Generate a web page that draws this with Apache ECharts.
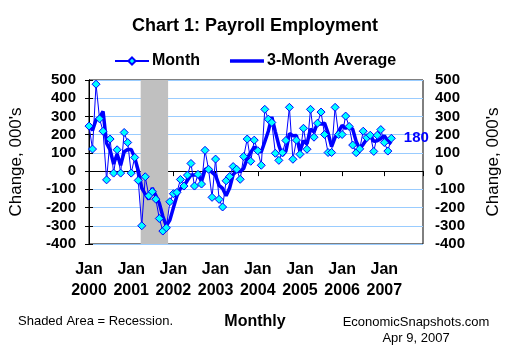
<!DOCTYPE html>
<html>
<head>
<meta charset="utf-8">
<script src="https://cdn.jsdelivr.net/npm/echarts@6/dist/echarts.min.js"></script>
<style>html,body{margin:0;padding:0;background:#fff;}#c{width:510px;height:360px;}</style>
</head>
<body>
<div id="c"></div>
<script>
// Monthly change in payroll employment, 000's, Jan 2000 .. Mar 2007
const monthly = [
  247, 121, 477, 287, 219, -48, 176, -11, 117, -11, 212, 157,
  -11, 75, -51, -300, -31, -135, -113, -154, -260, -329, -311, -168,
  -124, -117, -46, -82, -22, 42, -82, -18, -71, 114, 10, -144,
  66, -155, -197, -53, -30, 25, 10, -45, 80, 176, 54, 170,
  112, 32, 339, 285, 267, 98, 59, 101, 168, 350, 65, 170,
  92, 235, 120, 339, 186, 263, 324, 201, 102, 102, 350, 201,
  201, 302, 245, 143, 101, 122, 219, 183, 197, 108, 197, 228,
  157, 110, 180
];
// 3-month average, 000's
const avg3 = [
  260, 223, 282, 295, 328, 153, 116, 39, 94, 32, 106, 119,
  119, 74, 4, -92, -127, -155, -93, -134, -176, -248, -300, -269,
  -201, -136, -96, -82, -50, -21, -21, -19, -57, 8, 18, -7,
  -23, -78, -95, -135, -93, -19, 2, -3, 15, 70, 103, 133,
  112, 105, 161, 219, 297, 217, 141, 86, 109, 206, 194, 195,
  109, 166, 149, 231, 215, 263, 258, 263, 209, 135, 185, 218,
  251, 235, 249, 230, 163, 122, 147, 175, 200, 163, 167, 178,
  194, 165, 149
];
const yearLabels = ['2000','2001','2002','2003','2004','2005','2006','2007'];
const yTicks = [-400, -300, -200, -100, 0, 100, 200, 300, 400, 500];
const recession = [14.7, 22.5]; // month index from Jan 2000 (Mar 2001 - Nov 2001)
const lastMonthIndex = 95;      // axis runs to Dec 2007

const FONT = "'Liberation Sans', Arial, sans-serif";
const chart = echarts.init(document.getElementById('c'), null, {renderer: 'canvas'});

const monthData = monthly.map((v, i) => {
  if (i === monthly.length - 1) {
    return {
      value: [i, v],
      label: {
        show: true, position: 'right', distance: 8,
        formatter: p => String(p.value[1]),
        color: '#0000FF', fontFamily: FONT, fontWeight: 'bold', fontSize: 15
      }
    };
  }
  return [i, v];
});
const avgData = avg3.map((v, i) => [i, v]);

const yCommon = {
  type: 'value', min: yTicks[0], max: yTicks[yTicks.length - 1], interval: 100,
  axisLine: {show: true, lineStyle: {color: '#000', width: 1}},
  axisTick: {show: true, inside: false, length: 4, lineStyle: {color: '#000'}},
  axisLabel: {color: '#000', fontFamily: FONT, fontWeight: 'bold', fontSize: 15},
  name: "Change, 000's", nameLocation: 'middle', nameRotate: 90,
  nameTextStyle: {color: '#000', fontFamily: FONT, fontSize: 17}
};

chart.setOption({
  animation: false,
  backgroundColor: '#fff',
  title: {
    text: 'Chart 1: Payroll Employment', left: 'center', top: 12,
    textStyle: {color: '#000', fontFamily: FONT, fontWeight: 'bold', fontSize: 18}
  },
  legend: {
    left: 109, top: 48, itemWidth: 34, itemHeight: 9, itemGap: 30,
    data: [
      {name: 'Month'},
      {name: '3-Month Average', icon: 'path://M0,0 L34,0 L34,3.5 L0,3.5 Z'}
    ],
    textStyle: {color: '#000', fontFamily: FONT, fontWeight: 'bold', fontSize: 16, padding: [0,0,0,-2]}
  },
  grid: {left: 86, right: 84, top: 80, bottom: 116, show: true, borderColor: '#000', borderWidth: 1},
  xAxis: [
    {
      type: 'value', min: 0, max: lastMonthIndex, interval: 12, position: 'bottom',
      axisLine: {show: false, onZero: false}, axisTick: {show: false}, splitLine: {show: false},
      axisLabel: {
        margin: 15, color: '#000', fontFamily: FONT, fontWeight: 'bold', fontSize: 16, lineHeight: 21,
        showMaxLabel: false,
        formatter: v => (v % 12 === 0 && yearLabels[v / 12]) ? 'Jan\n' + yearLabels[v / 12] : ''
      }
    },
    {
      type: 'value', min: 0, max: lastMonthIndex, interval: 12, position: 'top',
      axisLine: {show: true, onZero: true, lineStyle: {color: '#000', width: 1}},
      axisTick: {show: true, inside: true, length: 5, lineStyle: {color: '#000'}},
      axisLabel: {show: false}, splitLine: {show: false}
    }
  ],
  yAxis: [
    Object.assign({}, yCommon, {
      position: 'left', nameGap: 64,
      axisLabel: Object.assign({}, yCommon.axisLabel, {margin: 13}),
      splitLine: {show: true, lineStyle: {color: '#99CCFF', width: 1}}
    }),
    Object.assign({}, yCommon, {
      position: 'right', nameGap: 62,
      axisLabel: Object.assign({}, yCommon.axisLabel, {margin: 12}),
      splitLine: {show: false}
    })
  ],
  series: [
    {
      name: '3-Month Average', type: 'line', xAxisIndex: 0, yAxisIndex: 0,
      data: avgData, showSymbol: false, symbol: 'none', z: 2,
      lineStyle: {color: '#0000FF', width: 3.5},
      itemStyle: {color: '#0000FF'},
      markArea: {
        silent: true,
        itemStyle: {color: '#C0C0C0', opacity: 1},
        data: [[{xAxis: recession[0]}, {xAxis: recession[1]}]]
      }
    },
    {
      name: 'Month', type: 'line', xAxisIndex: 0, yAxisIndex: 0,
      data: monthData, symbol: 'diamond', symbolSize: 8, z: 3,
      lineStyle: {color: '#0000FF', width: 1},
      itemStyle: {color: '#00FFFF', borderColor: '#0000FF', borderWidth: 1}
    }
  ],
  graphic: [
    {type: 'text', style: {text: 'Shaded Area = Recession.', x: 18, y: 321, align: 'left', verticalAlign: 'middle', font: '13px ' + FONT, fill: '#000'}},
    {type: 'text', style: {text: 'Monthly', x: 255, y: 322, align: 'center', verticalAlign: 'middle', font: 'bold 16px ' + FONT, fill: '#000'}},
    {type: 'text', style: {text: 'EconomicSnapshots.com', x: 416, y: 322, align: 'center', verticalAlign: 'middle', font: '13px ' + FONT, fill: '#000'}},
    {type: 'text', style: {text: 'Apr 9, 2007', x: 416, y: 338, align: 'center', verticalAlign: 'middle', font: '13px ' + FONT, fill: '#000'}}
  ]
});
</script>
</body>
</html>
